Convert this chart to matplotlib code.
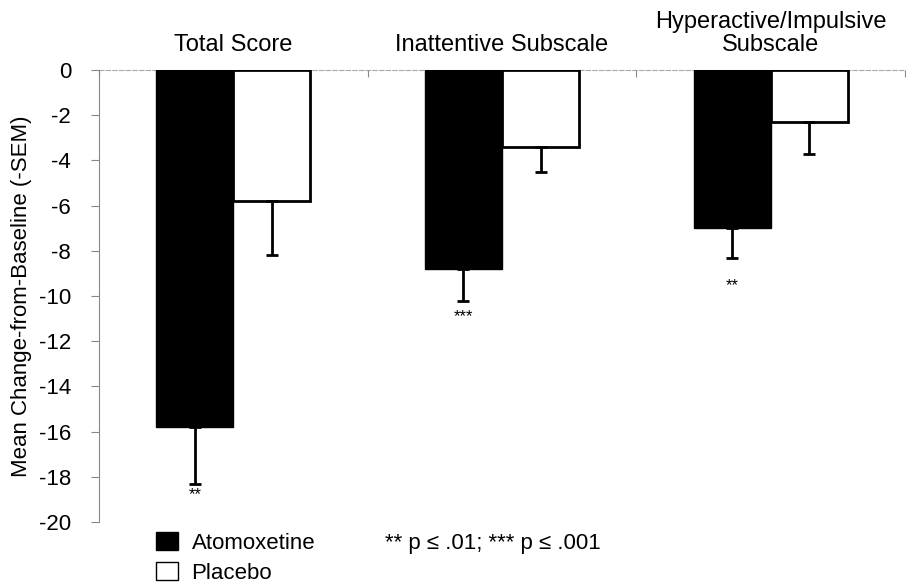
import matplotlib
matplotlib.use("Agg")
import matplotlib.pyplot as plt
from matplotlib.patches import Patch
import numpy as np

plt.rcParams['font.family'] = ['Liberation Sans', 'DejaVu Sans']
plt.rcParams['axes.unicode_minus'] = False

categories = ["Total Score", "Inattentive Subscale", "Hyperactive/Impulsive\nSubscale"]
atomoxetine = [-15.8, -8.8, -7.0]
atomoxetine_sem = [2.5, 1.4, 1.3]
placebo = [-5.8, -3.4, -2.3]
placebo_sem = [2.4, 1.1, 1.4]
stars = ["**", "***", "**"]
star_y = [-18.8, -10.9, -9.55]
yticks = list(range(-20, 1, 2))

fig = plt.figure(figsize=(9.07, 5.86), dpi=100)
ax = fig.add_axes([99 / 907, 1 - 522 / 586, 806 / 907, 452 / 586])

x = np.arange(len(categories)) + 0.5
w = 0.287

ax.bar(x - w / 2, atomoxetine, w, color="black", edgecolor="black", linewidth=1)
ax.bar(x + w / 2, placebo, w, color="white", edgecolor="black", linewidth=2)

ax.errorbar(x - w / 2, atomoxetine, yerr=[atomoxetine_sem, [0] * 3], fmt="none",
            ecolor="black", elinewidth=2, capsize=4, capthick=2)
ax.errorbar(x + w / 2, placebo, yerr=[placebo_sem, [0] * 3], fmt="none",
            ecolor="black", elinewidth=2, capsize=4, capthick=2)

for xi, s, sy in zip(x - w / 2, stars, star_y):
    ax.text(xi, sy, s, ha="center", va="center", fontsize=12)

for xi, c in zip(x, categories):
    ax.text(xi, 0.62, c, ha="center", va="bottom", fontsize=17, linespacing=1.05)

ax.set_xlim(0, 3)
ax.set_ylim(-20, 0)
ax.set_yticks(yticks)
ax.set_yticklabels([str(t) for t in yticks], fontsize=16)
ax.set_xticks([0, 1, 2, 3])
ax.set_xticklabels([])
ax.xaxis.set_ticks_position("top")
ax.tick_params(axis="x", direction="in", length=5, color="#888888")
ax.tick_params(axis="y", direction="out", length=6, color="#888888", pad=14)

ax.set_ylabel("Mean Change-from-Baseline (-SEM)", fontsize=16)
ax.yaxis.set_label_coords(-0.083, 0.5)

for side in ["right", "bottom"]:
    ax.spines[side].set_visible(False)
ax.spines["left"].set_color("#888888")
ax.spines["top"].set_color("#aaaaaa")
ax.spines["top"].set_linestyle((0, (4, 2)))
ax.spines["top"].set_zorder(0)

handles = [Patch(facecolor="black", edgecolor="black"),
           Patch(facecolor="white", edgecolor="black")]
fig.legend(handles, ["Atomoxetine", "Placebo"], loc="upper left",
           bbox_to_anchor=(156 / 907, 1 - 532 / 586), frameon=False, fontsize=16,
           handlelength=1.0, handleheight=0.85, handletextpad=0.6, labelspacing=0.4,
           borderaxespad=0, borderpad=0)

fig.text(385 / 907, 1 - 543 / 586, "** p \u2264 .01; *** p \u2264 .001",
         fontsize=16, va="center", ha="left")

fig.savefig("out.png", dpi=100)
